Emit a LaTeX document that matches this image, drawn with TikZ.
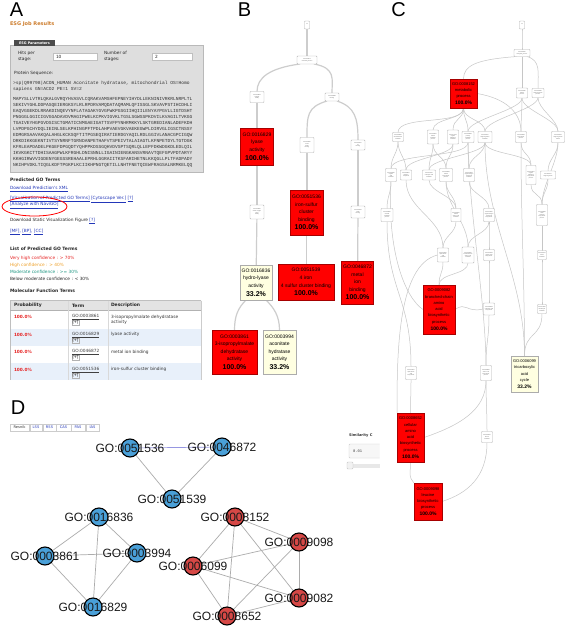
\documentclass[tikz,border=0pt]{standalone}
\usepackage{fontspec}
\setmainfont{Liberation Sans}
\newfontfamily\verd{DejaVu Sans}
\newfontfamily\monof{Liberation Mono}
\usetikzlibrary{calc}
\pgfdeclarelayer{bg}
\pgfsetlayers{bg,main}
\definecolor{esgorange}{RGB}{205,125,45}
\definecolor{panelgray}{RGB}{222,222,222}
\definecolor{linkblue}{RGB}{35,55,185}
\definecolor{rowblue}{RGB}{232,240,250}
\definecolor{vhred}{RGB}{230,35,35}
\definecolor{horange}{RGB}{238,160,40}
\definecolor{modteal}{RGB}{30,150,130}
\definecolor{gored}{RGB}{255,0,0}
\definecolor{cream}{RGB}{255,255,225}
\definecolor{dblue}{RGB}{74,160,216}
\definecolor{dred}{RGB}{214,72,70}
\definecolor{edgegray}{RGB}{205,205,205}
\definecolor{bluedge}{RGB}{150,150,225}
\newcommand\myfs[2]{\fontsize{#1}{#2}\selectfont}
\newcommand\pctB[1]{{\bfseries\myfs{7}{8}#1}}
\newcommand\pctC[1]{{\bfseries\myfs{5}{6}#1}}
\newcommand\cedg[3][12]{\draw[cedge] (#2.south) .. controls +(0,#1) and +(0,-#1) .. (#3.north);}
\newcommand\tbx[5]{\node[tbox,minimum width=#3,minimum height=#4] (#1) at #2 {#5};}
\begin{document}
\begin{tikzpicture}[x=1pt,y=-1pt,
  every node/.style={inner sep=0pt,outer sep=0pt},
  plabel/.style={font=\myfs{20}{20}},
  atx/.style={anchor=west,font=\verd\myfs{4.3}{5.4},text=black!85},
  abold/.style={anchor=west,font=\verd\bfseries\myfs{4.5}{5.4},text=black!85},
  alink/.style={anchor=west,font=\verd\myfs{4.3}{5.4},text=linkblue},
  seqtx/.style={anchor=west,font=\monof\myfs{4.6}{5.6},text=black!80},
  tbox/.style={draw=gray!60,fill=white,rounded corners=0.8pt,line width=0.45pt,align=center,font=\myfs{1.25}{1.6},text=gray!50!black},
  redB/.style={draw=red!65!black,fill=gored,line width=0.4pt,align=center,font=\myfs{5}{7.6}},
  creamB/.style={draw=gray!65,fill=cream,line width=0.4pt,align=center,font=\myfs{5}{7.6}},
  redC/.style={draw=red!65!black,fill=gored,line width=0.35pt,align=center,font=\myfs{4}{6.3}},
  creamC/.style={draw=gray!65,fill=cream,line width=0.35pt,align=center,font=\myfs{4}{6.3}},
  bedge/.style={draw=edgegray,line width=1.2pt},
  cedge/.style={draw=gray!45,line width=0.5pt},
  dedge/.style={draw=gray!65,line width=0.7pt},
  bnode/.style={circle,draw=black,line width=1.1pt,fill=dblue,minimum size=18pt},
  rnode/.style={circle,draw=black,line width=1.1pt,fill=dred,minimum size=18pt},
  dlab/.style={font=\myfs{12}{12},text=black!90},
  tabbox/.style={draw=gray!40,fill=white,minimum height=6.5,font=\verd\myfs{3.6}{4},text=linkblue}
]
\begin{pgfonlayer}{bg}
\fill[white] (0,0) rectangle (567,629);
\end{pgfonlayer}
\useasboundingbox (0,0) rectangle (567,629);

%================ Panel labels
\node[plabel] (labA) at (16.5,10) {A};
\node[plabel] (labB) at (244.5,10) {B};
\node[plabel] (labC) at (398.5,10) {C};
\node[plabel] (labD) at (18,407.5) {D};

%================ Panel A
\node[anchor=west,font=\verd\bfseries\myfs{5}{6},text=esgorange] (esgtitle) at (10,24.5) {ESG Job Results};
\draw[draw=gray!55,fill=panelgray] (10,45) rectangle (203,172);
\node[fill=gray!60!black,text=white,font=\verd\bfseries\myfs{3.4}{4},minimum width=41,minimum height=6] (tab) at (34.5,43) {ESG Parameters};
\node[atx,align=left] (hits) at (18,56.5) {Hits per\\stage:};
\node[draw=gray!50,fill=white,minimum width=44,minimum height=7,anchor=west] (hitsbox) at (53,56.5) {};
\node[atx] (hitsval) at (56,56.5) {10};
\node[atx,align=left] (nst) at (104,56.5) {Number of\\stages:};
\node[draw=gray!50,fill=white,minimum width=40,minimum height=7,anchor=west] (nstbox) at (152,56.5) {};
\node[atx] (nstval) at (155,56.5) {2};
\node[atx] (pseq) at (14,73) {Protein Sequence:};
\node[seqtx] (hdr1) at (13,83) {>sp|Q99798|ACON\_HUMAN Aconitate hydratase, mitochondrial OS=Homo};
\node[seqtx] (hdr2) at (13,89) {sapiens GN=ACO2 PE=1 SV=2};
\foreach \s [count=\i] in {MAPYSLLVTRLQKALGVRQYHVASVLCQRAKVAMSHFEPNEYIHYDLLEKNINIVRKRLNRPLTL,
SEKIVYGHLDDPASQEIERGKSYLRLRPDRVAMQDATAQMAMLQFISSGLSKVAVPSTIHCDHLI,
EAQVGGEKDLRRAKDINQEVYNFLATAGAKYGVGFWKPGSGIIHQIILENYAYPGVLLIGTDSHT,
PNGGGLGGICIGVGGADAVDVMAGIPWELKCPKVIGVKLTGSLSGWSSPKDVILKVAGILTVKGG,
TGAIVEYHGPGVDSISCTGMATICNMGAEIGATTSVFPYNHRMKKYLSKTGREDIANLADEFKDH,
LVPDPGCHYDQLIEINLSELKPHINGPFTPDLAHPVAEVGKVAEKEGWPLDIRVGLIGSCTNSSY,
EDMGRSAAVAKQALAHGLKCKSQFTITPGSEQIRATIERDGYAQILRDLGGIVLANACGPCIGQW,
DRKDIKKGEKNTIVTSYNRNFTGRNDANPETHAFVTSPEIVTALAIAGTLKFNPETDYLTGTDGK,
KFRLEAPDADELPKGEFDPGQDTYQHPPKDSSGQHVDVSPTSQRLQLLEPFDKWDGKDLEDLQIL,
IKVKGKCTTDHISAAGPWLKFRGHLDNISNNLLIGAINIENGKANSVRNAVTQEFGPVPDTARYY,
KKHGIRWVVIGDENYGEGSSREHAALEPRHLGGRAIITKSFARIHETNLKKQGLLPLTFADPADY,
NKIHPVDKLTIQGLKDFTPGKPLKCIIKHPNGTQETILLNHTFNETQIEWFRAGSALNRMKELQQ}
  \node[seqtx] (seq\i) at (13,{99+(\i-1)*6}) {\s};

\node[abold] (pgo) at (10,180) {Predicted GO Terms};
\node[alink] (dlxml) at (10,189) {\underline{Download Prediction's XML}};
\node[alink] (viz) at (10,199.3) {\underline{[Visualization of Predicted GO Terms]} \underline{[Cytoscape Ver.]} \underline{[?]}};
\node[alink] (navi) at (10,205.3) {\underline{[Analyze with NaviGO]}};
\draw[red,line width=0.8pt] (34.5,206.5) ellipse [x radius=32.5,y radius=9.5];
\node[atx] (dstat) at (10,221) {Download Static Visualization Figure \textcolor{linkblue}{\underline{[?]}}};
\node[alink] (mfbp) at (10,232) {\underline{[MF]}, \underline{[BP]}, \underline{[CC]}};
\node[abold] (lpgo) at (10,249) {List of Predicted GO Terms};
\node[atx,text=vhred] (leg1) at (10,258.3) {Very high confidence : > 70\%};
\node[atx,text=horange] (leg2) at (10,265.3) {High confidence : > 40\%};
\node[atx,text=modteal] (leg3) at (10,272) {Moderate confidence : >= 30\%};
\node[atx] (leg4) at (10,279) {Below moderate confidence : < 30\%};
\node[abold] (mft) at (10,291) {Molecular Function Terms};

% table
\fill[gray!22] (10,300.5) rectangle (201,310);
\fill[white] (10,310) rectangle (201,329);
\fill[rowblue] (10,329) rectangle (201,345.7);
\fill[white] (10,345.7) rectangle (201,363);
\fill[rowblue] (10,363) rectangle (201,380);
\draw[gray!50,line width=0.5pt] (201,300.5) -- (10,300.5) -- (10,380);
\draw[gray!60,line width=0.4pt] (10,310) -- (201,310);
\draw[gray!30,line width=0.4pt] (68,300.5) -- (68,380) (108,300.5) -- (108,380);
\draw[gray!40,line width=0.4pt] (201,300.5) -- (201,380);
\node[abold] (thp) at (14,305.5) {Probability};
\node[abold] (tht) at (72,305.5) {Term};
\node[abold] (thd) at (111,305.5) {Description};
\foreach \y/\go/\desc/\id in {317.3/GO:0003861/{3-isopropylmalate dehydratase\\activity}/1,
  335/GO:0016829/{lyase activity}/2,
  352.3/GO:0046872/{metal ion binding}/3,
  370/GO:0051536/{iron-sulfur cluster binding}/4}{
  \node[anchor=west,font=\verd\bfseries\myfs{4.3}{5.4},text=vhred] (prob\id) at (14,\y) {100.0\%};
  \node[anchor=west,font=\verd\myfs{4.3}{5.4},text=black!75] (term\id) at (72,\y) {\underline{\go}};
  \node[anchor=west,draw=gray!60,font=\verd\myfs{3.6}{4},inner sep=0.5pt,minimum height=4.5] (plus\id) at (72,{\y+5.5}) {[+]};
  \node[anchor=north west,align=left,font=\verd\myfs{4.3}{5.4},text=black!80] (desc\id) at (111,{\y-2.3}) {\desc};
}

%================ Panel B
\tbx{b0}{(307,25)}{5}{8}{all\\\ }
\tbx{b1}{(307,60)}{20}{8}{GO:0003674\\molecular\_function}
\tbx{b2}{(257,97)}{14}{11}{GO:0003824\\catalytic\\activity}
\tbx{b3}{(332,97)}{14}{8}{GO:0005488\\binding}
\tbx{b4}{(307,145)}{14}{15}{GO:0051540\\metal\\cluster\\binding}
\tbx{b5}{(358,145)}{14}{10}{GO:0043167\\ion\\binding}
\tbx{b6}{(257,212)}{14}{14}{GO:0016835\\carbon-oxygen\\lyase\\activity}
\tbx{b7}{(358,212)}{14}{12}{GO:0043169\\cation\\binding}
\node[redB,minimum width=33,minimum height=37] (g16829) at (257,146.5) {GO:0016829\\lyase\\activity\\[1pt]\pctB{100.0\%}};
\node[redB,minimum width=33,minimum height=45] (g51536) at (306.5,212.5) {GO:0051536\\iron-sulfur\\cluster\\binding\\[1pt]\pctB{100.0\%}};
\node[creamB,minimum width=32,minimum height=35] (g16836) at (256,282.5) {GO:0016836\\hydro-lyase\\activity\\[1pt]\pctB{33.2\%}};
\node[redB,minimum width=56,minimum height=36] (g51539) at (306,282) {GO:0051539\\4 iron\\4 sulfur cluster binding\\[1pt]\pctB{100.0\%}};
\node[redB,minimum width=32,minimum height=43] (g46872) at (357.5,282.5) {GO:0046872\\metal\\ion\\binding\\[1pt]\pctB{100.0\%}};
\node[redB,minimum width=45,minimum height=44] (g3861) at (234.5,352) {GO:0003861\\3-isopropylmalate\\dehydratase\\activity\\[1pt]\pctB{100.0\%}};
\node[creamB,minimum width=33,minimum height=44] (g3994) at (279.5,352) {GO:0003994\\aconitate\\hydratase\\activity\\[1pt]\pctB{33.2\%}};

\begin{pgfonlayer}{bg}
\draw[bedge] (b0) -- (b1);
\draw[bedge] ([xshift=3pt]b1.south west) .. controls +(-30,4) and +(0,-14) .. (b2.north);
\draw[bedge] ([xshift=-3pt]b1.south east) .. controls +(22,4) and +(0,-14) .. (b3.north);
\draw[bedge] (b2) -- (g16829);
\draw[bedge] ([xshift=2pt]b3.south west) .. controls +(-20,6) and +(0,-22) .. (b4.north);
\draw[bedge] ([xshift=-2pt]b3.south east) .. controls +(18,6) and +(0,-22) .. (b5.north);
\draw[bedge] (g16829) -- (b6);
\draw[bedge] (b6) -- (g16836);
\draw[bedge] (b4.south) -- (b4.south |- g51536.north);
\draw[bedge] (g51536.south) -- (g51536.south |- g51539.north);
\draw[bedge] (b5) -- (b7);
\draw[bedge] (b7) -- (g46872);
\draw[bedge] ([xshift=6pt]g16836.south west) .. controls +(-8,8) and +(0,-14) .. (g3861.north);
\draw[bedge] ([xshift=-6pt]g16836.south east) .. controls +(8,8) and +(0,-14) .. (g3994.north);
\end{pgfonlayer}

%================ Panel C
\tbx{c0}{(522,25)}{5}{8}{all\\\ }
\tbx{c1}{(522,53)}{16}{7}{GO:0008150\\biological\_process}
\node[redC,minimum width=27,minimum height=29] (g8152) at (463.5,93.5) {GO:0008152\\metabolic\\process\\[0.5pt]\pctC{100.0\%}};
\tbx{c2a}{(522,93)}{11}{10}{GO:0009987\\cellular\\process}
\tbx{c2b}{(538,93)}{12}{9}{GO:0044699\\single-organism\\process}
\tbx{c3a}{(398,137)}{11}{9}{GO:0044281\\small molecule\\metabolic}
\tbx{c3b}{(433,137)}{11}{14}{GO:0044237\\cellular\\metabolic\\process}
\tbx{c3c}{(453,137)}{11}{14}{GO:0071704\\organic\\substance\\metabolic}
\tbx{c3d}{(468,137)}{12}{11}{GO:0044238\\primary\\metabolic\\process}
\tbx{c3e}{(485,137)}{14}{11}{GO:0044710\\single-organism\\metabolic}
\tbx{c3f}{(521,137)}{11}{11}{GO:0009058\\biosynthetic\\process}
\tbx{c3g}{(558,137)}{13}{11}{GO:0044763\\single-organism\\cellular}
\tbx{c4a}{(391,175)}{11}{13}{GO:0006082\\organic\\acid\\metabolic}
\tbx{c4b}{(406,175)}{11}{10}{GO:0006807\\nitrogen\\compound}
\tbx{c4c}{(429,175)}{13}{10}{GO:0019752\\carboxylic acid\\metabolic}
\tbx{c4d}{(446,175)}{13}{13}{GO:0044249\\cellular\\biosynthetic\\process}
\tbx{c4e}{(469,175)}{11}{13}{GO:1901564\\organonitrogen\\compound\\metabolic}
\tbx{c4f}{(531,175)}{10}{19}{GO:1901576\\organic\\substance\\biosynthetic\\process}
\tbx{c4g}{(548,175)}{15}{8}{GO:0044711\\single-organism}
\tbx{c5a}{(387,215)}{12}{13}{GO:0043436\\oxoacid\\metabolic\\process}
\tbx{c5b}{(456,215)}{10}{13}{GO:0006520\\cellular\\amino acid\\metabolic}
\tbx{c5c}{(489,215)}{11}{13}{GO:1901566\\organonitrogen\\compound\\biosynthetic}
\tbx{c5d}{(542,215)}{11}{21}{GO:0044283\\small\\molecule\\biosynthetic\\process}
\tbx{c6a}{(443,255)}{11}{14}{GO:1901605\\alpha-amino\\acid\\metabolic}
\tbx{c6b}{(468,255)}{12}{16}{GO:0009081\\branched-chain\\amino acid\\metabolic}
\tbx{c6c}{(489,255)}{11}{11}{GO:0016053\\organic acid\\biosynthetic}
\tbx{c6d}{(542,255)}{9}{9}{GO:0006101\\citrate\\metabolic}
\node[redC,minimum width=32,minimum height=49] (g9082) at (439,309.5) {GO:0009082\\branched-chain\\amino\\acid\\biosynthetic\\process\\[0.5pt]\pctC{100.0\%}};
\tbx{c7a}{(489,309)}{11}{12}{GO:0046394\\carboxylic acid\\biosynthetic}
\tbx{c7b}{(542,309)}{9}{9}{GO:0072350\\tricarboxylic\\metabolic}
\node[creamC,minimum width=27,minimum height=36] (g6099) at (524.5,374) {GO:0006099\\tricarboxylic\\acid\\cycle\\[0.5pt]\pctC{33.2\%}};
\tbx{c8a}{(411,373)}{11}{13}{GO:1901607\\alpha-amino\\acid\\biosynthetic}
\tbx{c8b}{(486,373)}{11}{15}{GO:0008652\\amino acid\\biosynthetic\\process}
\tbx{c9}{(487,437)}{11}{11}{GO:0006551\\leucine\\metabolic}
\node[redC,minimum width=27,minimum height=49] (g8652) at (410.5,437.5) {GO:0008652\\cellular\\amino\\acid\\biosynthetic\\process\\[0.5pt]\pctC{100.0\%}};
\node[redC,minimum width=28,minimum height=37] (g9098) at (428,501.5) {GO:0009098\\leucine\\biosynthetic\\process\\[0.5pt]\pctC{100.0\%}};

\begin{pgfonlayer}{bg}
\cedg[8]{c0}{c1}
\draw[cedge] ([xshift=3pt]c1.south west) .. controls +(-40,3) and +(0,-14) .. (g8152.north);
\cedg[15]{c1}{c2a}
\draw[cedge] ([xshift=-3pt]c1.south east) .. controls +(14,4) and +(0,-16) .. (c2b.north);
\cedg[18]{g8152}{c3a}
\cedg{g8152}{c3b}
\cedg{g8152}{c3c}
\cedg{g8152}{c3d}
\cedg{g8152}{c3e}
\draw[cedge] (g8152.east) .. controls +(30,5) and +(0,-18) .. (c3f.north);
\cedg{c2a}{c3d}
\cedg{c2a}{c3f}
\cedg{c2a}{c3g}
\cedg{c2b}{c3e}
\cedg{c2b}{c3g}
\cedg{c3a}{c4a}
\cedg{c3a}{c4b}
\cedg{c3b}{c4c}
\cedg{c3b}{c4d}
\cedg{c3c}{c4d}
\cedg{c3c}{c4b}
\cedg{c3d}{c4e}
\cedg[16]{c3d}{c4a}
\cedg{c3e}{c4c}
\cedg{c3e}{c4e}
\cedg{c3e}{c4f}
\cedg{c3f}{c4f}
\cedg{c3g}{c4g}
\cedg[20]{c3g}{c5d}
\cedg{c4a}{c5a}
\cedg{c4c}{c5b}
\cedg{c4d}{c5b}
\cedg{c4e}{c5c}
\cedg{c4f}{c5d}
\cedg{c4g}{c5d}
\cedg[30]{c4b}{c6a}
\cedg[25]{c4d}{c6b}
\cedg{c5b}{c6a}
\cedg{c5c}{c6c}
\cedg{c5c}{c6b}
\cedg{c5d}{c6d}
\cedg[60]{c3d}{c8b}
\cedg[80]{c3e}{g6099}
\cedg[80]{c3f}{g6099}
\cedg{c6a}{g9082}
\cedg{c6b}{g9082}
\cedg{c6c}{c7a}
\cedg{c6d}{c7b}
\cedg[25]{c7b}{g6099}
\draw[cedge] (c7a.west) .. controls +(-18,4) and +(12,-8) .. (g9082.east);
\cedg[25]{c7a}{c8b}
\draw[cedge] (c4a.south) .. controls +(-4,70) and +(-18,-12) .. (g9082.west);
\cedg[70]{c5a}{c8a}
\draw[cedge] (c6a.west) .. controls +(-40,10) and +(0,-60) .. (g8652.north west);
\cedg[20]{c8a}{g8652}
\draw[cedge] (c8b.south) .. controls +(0,30) and +(35,-12) .. (g8652.east);
\cedg[20]{c8b}{c9}
\draw[cedge] (c9.south) .. controls +(0,35) and +(25,-8) .. (g9098.east);
\draw[cedge] (g8652.south) .. controls +(0,14) and +(-6,-8) .. (g9098.north west);
\end{pgfonlayer}

%================ Panel D
\node[tabbox,minimum width=19,text=gray!40!black] (tres) at (19.5,427.5) {Resnik};
\node[tabbox,minimum width=12] (tlss) at (36,427.5) {LSS};
\node[tabbox,minimum width=13] (trss) at (49.5,427.5) {RSS};
\node[tabbox,minimum width=15] (tcas) at (63.5,427.5) {CAS};
\node[tabbox,minimum width=14] (tpas) at (78,427.5) {PAS};
\node[tabbox,minimum width=13] (tias) at (92.5,427.5) {IAS};

\node[bnode] (n51536) at (130,448) {};
\node[bnode] (n46872) at (222,447) {};
\node[bnode] (n51539) at (172,499) {};
\node[bnode] (n16836) at (99,517) {};
\node[bnode] (n3861) at (45,556) {};
\node[bnode] (n3994) at (137,553) {};
\node[bnode] (n16829) at (93,607) {};
\node[rnode] (n8152) at (235,517) {};
\node[rnode] (n9098) at (299,542) {};
\node[rnode] (n6099) at (193,566) {};
\node[rnode] (n9082) at (299,598) {};
\node[rnode] (n8652) at (227,616) {};

\begin{pgfonlayer}{bg}
\draw[line width=0.7pt,draw=bluedge] (n51536) -- (n46872);
\draw[dedge] (n51536) -- (n51539);
\draw[dedge] (n51539) -- (n46872);
\draw[dedge] (n16836) -- (n3861);
\draw[dedge] (n16836) -- (n3994);
\draw[dedge] (n16836) -- (n16829);
\draw[dedge] (n3861) -- (n3994);
\draw[dedge] (n3861) -- (n16829);
\draw[dedge] (n3994) -- (n16829);
\draw[dedge] (n8152) -- (n9098);
\draw[dedge] (n8152) -- (n6099);
\draw[dedge] (n8152) -- (n9082);
\draw[dedge] (n8152) -- (n8652);
\draw[dedge] (n9098) -- (n6099);
\draw[dedge] (n9098) -- (n9082);
\draw[dedge] (n9098) -- (n8652);
\draw[dedge] (n6099) -- (n9082);
\draw[dedge] (n6099) -- (n8652);
\draw[dedge] (n9082) -- (n8652);
\end{pgfonlayer}

\node[dlab] (l51536) at (n51536) {GO:0051536};
\node[dlab] (l46872) at (n46872) {GO:0046872};
\node[dlab] (l51539) at (n51539) {GO:0051539};
\node[dlab] (l16836) at (n16836) {GO:0016836};
\node[dlab] (l3861) at (n3861) {GO:0003861};
\node[dlab] (l3994) at (n3994) {GO:0003994};
\node[dlab] (l16829) at (n16829) {GO:0016829};
\node[dlab] (l8152) at (n8152) {GO:0008152};
\node[dlab] (l9098) at (n9098) {GO:0009098};
\node[dlab] (l6099) at (n6099) {GO:0006099};
\node[dlab] (l9082) at (n9082) {GO:0009082};
\node[dlab] (l8652) at (n8652) {GO:0008652};

% similarity widget
\node[anchor=west,font=\verd\bfseries\myfs{3.6}{4},text=black!80] (simlab) at (349,435.5) {Similarity C};
\draw[gray!40,fill=gray!6,rounded corners=1pt] (379.5,444) -- (349,444) -- (349,458) -- (379.5,458);
\node[anchor=west,font=\monof\myfs{3.8}{4},text=black!75] (simval) at (353,451) {0.01};
\fill[gray!18] (347,463.5) rectangle (379.5,467.5);
\draw[gray!45,fill=gray!10,rounded corners=1pt] (347,462) rectangle (353,469);
\end{tikzpicture}
\end{document}
